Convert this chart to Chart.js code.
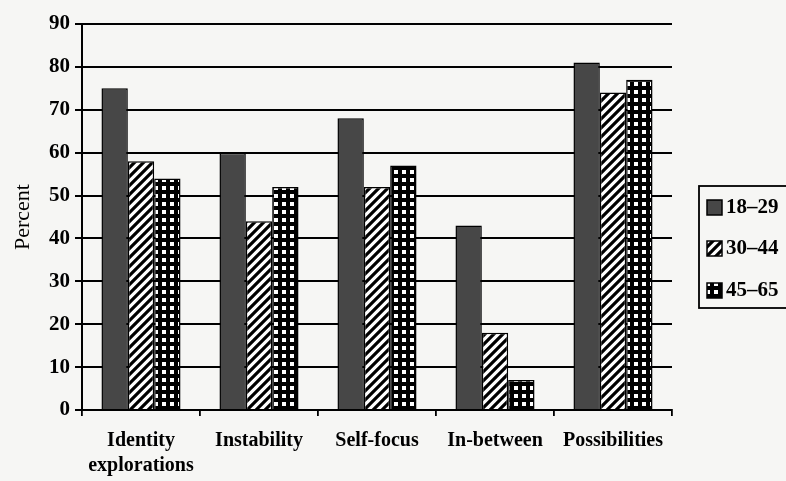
<!DOCTYPE html>
<html>
<head>
<meta charset="utf-8">
<script src="https://cdn.jsdelivr.net/npm/chart.js@4.4.1/dist/chart.umd.min.js"></script>
<style>
  html, body { margin: 0; padding: 0; background: #f6f6f4; }
  #wrap { width: 786px; height: 481px; position: relative; }
</style>
</head>
<body>
<div id="wrap"><canvas id="c" width="786" height="481"></canvas></div>
<script>
const categories = [["Identity", "explorations"], "Instability", "Self-focus", "In-between", "Possibilities"];
const seriesLabels = ["18\u201329", "30\u201344", "45\u201365"];
const age18to29 = [75, 60, 68, 43, 81];
const age30to44 = [58, 44, 52, 18, 74];
const age45to65 = [54, 52, 57, 7, 77];
const yTicks = [0, 10, 20, 30, 40, 50, 60, 70, 80, 90];

const SERIF = '"Liberation Serif", "DejaVu Serif", serif';

function hatchPattern() {
  const s = 9;
  const c = document.createElement('canvas');
  c.width = s; c.height = s;
  const g = c.getContext('2d');
  g.fillStyle = '#ffffff';
  g.fillRect(0, 0, s, s);
  g.strokeStyle = '#000000';
  g.lineWidth = 3.2;
  g.beginPath();
  g.moveTo(-s, s * 2); g.lineTo(s * 2, -s);
  g.moveTo(-s, s); g.lineTo(s, -s);
  g.moveTo(0, s * 2); g.lineTo(s * 2, 0);
  g.stroke();
  return g.createPattern(c, 'repeat');
}
function dotPattern() {
  const s = 8;
  const c = document.createElement('canvas');
  c.width = s; c.height = s;
  const g = c.getContext('2d');
  g.fillStyle = '#000000';
  g.fillRect(0, 0, s, s);
  g.fillStyle = '#ffffff';
  g.fillRect(2, 2, 4, 4);
  return g.createPattern(c, 'repeat');
}

const fills = ['#474747', hatchPattern(), dotPattern()];

const customLegend = {
  id: 'customLegend',
  afterDraw(chart) {
    const ctx = chart.ctx;
    ctx.save();
    ctx.strokeStyle = '#000';
    ctx.lineWidth = 1.8;
    ctx.strokeRect(699, 186, 100, 122);
    const rows = [207, 248, 290];
    chart.data.datasets.forEach((ds, i) => {
      const y = rows[i];
      ctx.fillStyle = ds.backgroundColor;
      ctx.fillRect(707, y - 7, 15, 15);
      ctx.strokeStyle = '#000';
      ctx.lineWidth = 1.5;
      ctx.strokeRect(707, y - 7, 15, 15);
      ctx.fillStyle = '#000';
      ctx.font = 'bold 21px ' + SERIF;
      ctx.textBaseline = 'middle';
      ctx.textAlign = 'left';
      ctx.fillText(ds.label, 726, y + 1);
    });
    ctx.restore();
  }
};

new Chart(document.getElementById('c'), {
  type: 'bar',
  data: {
    labels: categories,
    datasets: [
      { label: seriesLabels[0], data: age18to29 },
      { label: seriesLabels[1], data: age30to44 },
      { label: seriesLabels[2], data: age45to65 }
    ].map((d, i) => Object.assign(d, {
      backgroundColor: fills[i],
      borderColor: '#000',
      borderWidth: 1.5,
      categoryPercentage: 0.67,
      barPercentage: 1.0
    }))
  },
  options: {
    responsive: false,
    animation: false,
    events: [],
    layout: { padding: { left: 10, right: 114, top: 24, bottom: 0 } },
    plugins: { legend: { display: false }, tooltip: { enabled: false } },
    scales: {
      x: {
        offset: true,
        grid: { display: true, drawOnChartArea: false, drawTicks: true, tickLength: 6, color: '#000', lineWidth: 1.8, offset: true },
        border: { display: true, color: '#000', width: 2 },
        ticks: { color: '#000', padding: 12, font: { family: SERIF, size: 20, weight: 'bold', lineHeight: 1.25 }, maxRotation: 0, autoSkip: false },
        afterFit(scale) { scale.height = 71; }
      },
      y: {
        min: 0, max: 90,
        afterBuildTicks(scale) { scale.ticks = yTicks.map(v => ({ value: v })); },
        grid: { color: '#000', lineWidth: 2, drawTicks: true, tickLength: 7 },
        border: { display: true, color: '#000', width: 2 },
        ticks: { color: '#000', padding: 5, font: { family: SERIF, size: 21, weight: 'bold' } },
        title: { display: true, text: 'Percent', color: '#000', font: { family: SERIF, size: 22 }, padding: { top: 0, bottom: 9 } },
        afterFit(scale) { scale.width = 72; }
      }
    }
  },
  plugins: [customLegend]
});
</script>
</body>
</html>
